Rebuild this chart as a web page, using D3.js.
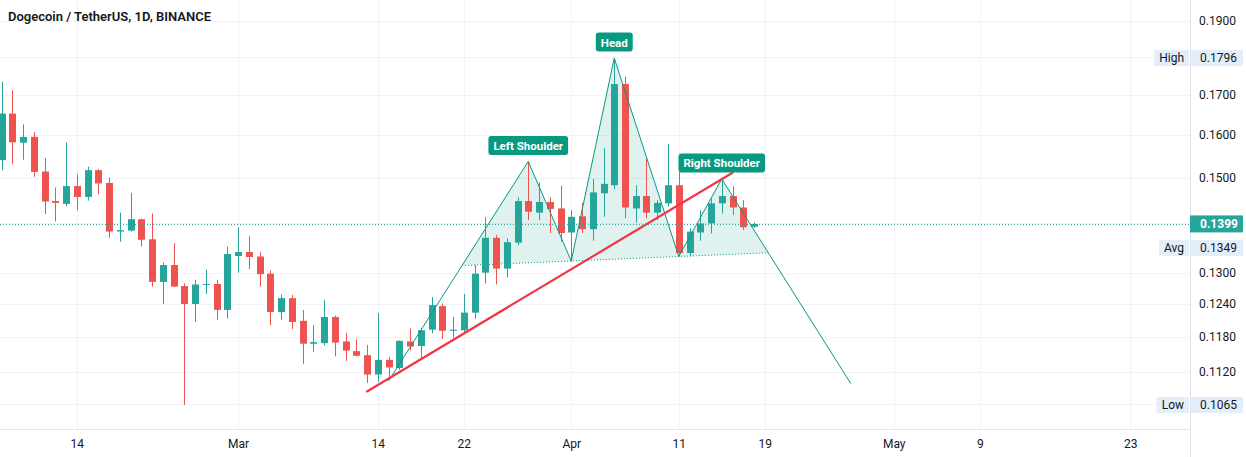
<!DOCTYPE html>
<html>
<head>
<meta charset="utf-8">
<script src="https://cdn.jsdelivr.net/npm/d3@7/dist/d3.min.js"></script>
<style>
  body { margin: 0; background: #ffffff; }
  svg { display: block; font-family: Roboto, "Liberation Sans", sans-serif; }
</style>
</head>
<body>
<svg id="chart" width="1246" height="457"></svg>
<script>
//chart text
var chartTitle = "Dogecoin / TetherUS, 1D, BINANCE";

//daily candles, first one is 7 Feb 2022
var firstDay = "2022-02-07";
var candleOpen  = [0.1540,0.1652,0.1581,0.1595,0.1514,0.1448,0.1442,0.1481,0.1457,0.1517,0.1488,0.1383,0.1385,0.1409,0.1367,0.1282,0.1315,0.1274,0.1240,0.1277,0.1278,0.1229,0.1333,0.1341,0.1332,0.1298,0.1225,0.1251,0.1209,0.1168,0.1169,0.1216,0.1172,0.1155,0.1148,0.1115,0.1140,0.1126,0.1172,0.1164,0.1193,0.1236,0.1191,0.1192,0.1224,0.1300,0.1370,0.1308,0.1360,0.1448,0.1423,0.1446,0.1432,0.1381,0.1415,0.1388,0.1465,0.1483,0.1727,0.1432,0.1459,0.1423,0.1443,0.1483,0.1339,0.1381,0.1400,0.1443,0.1459,0.1434,0.1393];
var candleHigh  = [0.1733,0.1711,0.1625,0.1607,0.1545,0.1478,0.1582,0.1507,0.1525,0.1519,0.1500,0.1423,0.1466,0.1410,0.1421,0.1320,0.1359,0.1279,0.1286,0.1306,0.1286,0.1352,0.1392,0.1374,0.1341,0.1304,0.1258,0.1257,0.1229,0.1201,0.1248,0.1219,0.1187,0.1176,0.1166,0.1223,0.1145,0.1174,0.1195,0.1196,0.1253,0.1241,0.1216,0.1259,0.1315,0.1413,0.1376,0.1369,0.1456,0.1537,0.1489,0.1456,0.1482,0.1428,0.1444,0.1497,0.1568,0.1796,0.1746,0.1483,0.1544,0.1450,0.1578,0.1513,0.1390,0.1428,0.1453,0.1499,0.1481,0.1450,0.1402];
var candleLow   = [0.1517,0.1531,0.1541,0.1502,0.1420,0.1404,0.1437,0.1428,0.1449,0.1463,0.1370,0.1362,0.1383,0.1352,0.1273,0.1240,0.1272,0.1065,0.1207,0.1259,0.1211,0.1213,0.1300,0.1307,0.1273,0.1201,0.1211,0.1194,0.1133,0.1154,0.1165,0.1146,0.1138,0.1146,0.1101,0.1103,0.1108,0.1123,0.1156,0.1143,0.1187,0.1176,0.1179,0.1187,0.1213,0.1279,0.1277,0.1291,0.1355,0.1407,0.1407,0.1380,0.1362,0.1322,0.1380,0.1364,0.1414,0.1474,0.1411,0.1402,0.1411,0.1407,0.1436,0.1332,0.1332,0.1364,0.1379,0.1421,0.1418,0.1386,0.1391];
var candleClose = [0.1652,0.1582,0.1595,0.1513,0.1447,0.1444,0.1481,0.1457,0.1517,0.1487,0.1383,0.1386,0.1409,0.1366,0.1282,0.1315,0.1273,0.1240,0.1277,0.1278,0.1229,0.1337,0.1341,0.1331,0.1297,0.1225,0.1251,0.1207,0.1168,0.1171,0.1216,0.1170,0.1156,0.1147,0.1115,0.1140,0.1127,0.1173,0.1163,0.1192,0.1238,0.1191,0.1193,0.1224,0.1298,0.1370,0.1308,0.1361,0.1448,0.1425,0.1446,0.1431,0.1380,0.1414,0.1388,0.1467,0.1486,0.1727,0.1434,0.1459,0.1423,0.1444,0.1483,0.1339,0.1383,0.1400,0.1443,0.1459,0.1434,0.1392,0.1399];

//head and shoulders drawing: start, left shoulder, trough, head, trough, right shoulder, target
var patternDates  = ["2022-03-15","2022-03-28","2022-04-01","2022-04-05","2022-04-11","2022-04-15","2022-04-27"];
var patternPrices = [0.1104,0.1537,0.1323,0.1796,0.1332,0.1497,0.1100];
var patternLabels = ["Left Shoulder","Head","Right Shoulder"];

//red support line
var trendDates  = ["2022-03-13","2022-04-16"];
var trendPrices = [0.1087,0.1511];

//time axis labels
var dateTicks  = ["2022-02-14","2022-03-01","2022-03-14","2022-03-22","2022-04-01","2022-04-11","2022-04-19","2022-05-01","2022-05-09","2022-05-23"];
var dateLabels = ["14","Mar","14","22","Apr","11","19","May","9","23"];

//price axis
var priceTicks = [0.19,0.17,0.16,0.15,0.13,0.124,0.118,0.112];
var priceGrid  = [0.19,0.18,0.17,0.16,0.15,0.14,0.13,0.124,0.118,0.112,0.1066];
var statNames  = ["High","Avg","Low"];
var statValues = [0.1796,0.1349,0.1065];

var upColor = "#26a69a",
	downColor = "#ef5350",
	patternColor = "#089981",
	trendColor = "#f23645",
	gridColor = "#f0f3fa",
	borderColor = "#e0e3eb",
	tagColor = "#e3eefb",
	textColor = "#131722";

var plotRight = 1190,
	plotBottom = 429,
	dayWidth = 10.75;

var svg = d3.select("#chart");
var parseDay = d3.utcParse("%Y-%m-%d");
var day0 = parseDay(firstDay);

var x = d3.scaleUtc()
	.domain([day0, d3.utcDay.offset(day0, 110)])
	.range([1.5, 1.5 + 110 * dayWidth]);

var y = d3.scaleLog()
	.domain([0.10272, 0.19602])
	.range([plotBottom, 0]);

var fmt = d3.format(".4f");

var candles = candleOpen.map(function(o, i){
	return {date: d3.utcDay.offset(day0, i), open: o, high: candleHigh[i], low: candleLow[i], close: candleClose[i]};
});

//grid
var grid = svg.append("g");
grid.selectAll(".hgrid")
	.data(priceGrid)
	.enter().append("line")
	.attr("x1", 0).attr("x2", plotRight)
	.attr("y1", function(d){ return Math.round(y(d)) + 0.5; })
	.attr("y2", function(d){ return Math.round(y(d)) + 0.5; })
	.attr("stroke", gridColor);
grid.selectAll(".vgrid")
	.data(dateTicks)
	.enter().append("line")
	.attr("x1", function(d){ return Math.round(x(parseDay(d))) + 0.5; })
	.attr("x2", function(d){ return Math.round(x(parseDay(d))) + 0.5; })
	.attr("y1", 0).attr("y2", plotBottom)
	.attr("stroke", gridColor);

//pattern fill and lines
var pts = patternDates.map(function(d, i){ return [x(parseDay(d)), y(patternPrices[i])]; });

function neckAt(p, q){
	//where segment p-q crosses the neckline through pts[2] and pts[4]
	var c = pts[2], e = pts[4];
	var m = (e[1] - c[1]) / (e[0] - c[0]);
	var s = (q[1] - p[1]) / (q[0] - p[0]);
	var xx = (p[1] - s * p[0] - c[1] + m * c[0]) / (m - s);
	return [xx, c[1] + m * (xx - c[0])];
}
var n1 = neckAt(pts[0], pts[1]),
	n2 = neckAt(pts[5], pts[6]);

var plot = svg.append("g");
var fills = [[n1, pts[1], pts[2]], [pts[2], pts[3], pts[4]], [pts[4], pts[5], n2]];
plot.selectAll(".hsfill")
	.data(fills)
	.enter().append("path")
	.attr("d", function(d){ return d3.line()(d) + "Z"; })
	.attr("fill", patternColor)
	.attr("fill-opacity", 0.13);

plot.append("path")
	.attr("d", d3.line()([n1, pts[2], pts[4], n2]))
	.attr("fill", "none")
	.attr("stroke", patternColor)
	.attr("stroke-dasharray", "1,2");

//candles
var candle = plot.selectAll(".candle")
	.data(candles)
	.enter().append("g")
	.attr("class", "candle");
candle.append("line")
	.attr("x1", function(d){ return Math.round(x(d.date)) + 0.5; })
	.attr("x2", function(d){ return Math.round(x(d.date)) + 0.5; })
	.attr("y1", function(d){ return y(d.high); })
	.attr("y2", function(d){ return y(d.low); })
	.attr("stroke", function(d){ return d.close >= d.open ? upColor : downColor; });
candle.append("rect")
	.attr("x", function(d){ return Math.round(x(d.date)) - 3; })
	.attr("width", 7)
	.attr("y", function(d){ return y(Math.max(d.open, d.close)); })
	.attr("height", function(d){ return Math.max(1, y(Math.min(d.open, d.close)) - y(Math.max(d.open, d.close))); })
	.attr("fill", function(d){ return d.close >= d.open ? upColor : downColor; });

plot.append("path")
	.attr("d", d3.line()(pts))
	.attr("fill", "none")
	.attr("stroke", patternColor)
	.attr("stroke-width", 1);

plot.append("line")
	.attr("x1", x(parseDay(trendDates[0]))).attr("y1", y(trendPrices[0]))
	.attr("x2", x(parseDay(trendDates[1]))).attr("y2", y(trendPrices[1]))
	.attr("stroke", trendColor)
	.attr("stroke-width", 2.2)
	.attr("stroke-linecap", "round");

//pattern labels over the three peaks
[1, 3, 5].forEach(function(k, i){
	var g = plot.append("g");
	var r = g.append("rect");
	var t = g.append("text")
		.attr("x", pts[k][0])
		.attr("y", pts[k][1] - 11.5)
		.attr("text-anchor", "middle")
		.attr("fill", "#ffffff")
		.attr("font-size", "11.5px")
		.attr("font-weight", "bold")
		.text(patternLabels[i]);
	var w = t.node().getComputedTextLength() + 10;
	r.attr("x", pts[k][0] - w / 2)
		.attr("y", pts[k][1] - 25.5)
		.attr("width", w)
		.attr("height", 19)
		.attr("rx", 3)
		.attr("fill", patternColor);
});

//last price line
var lastClose = candleClose[candleClose.length - 1];
svg.append("line")
	.attr("x1", 0).attr("x2", plotRight)
	.attr("y1", Math.round(y(lastClose)) + 0.5)
	.attr("y2", Math.round(y(lastClose)) + 0.5)
	.attr("stroke", upColor)
	.attr("stroke-dasharray", "1,2");

//borders
svg.append("line")
	.attr("x1", plotRight + 0.5).attr("x2", plotRight + 0.5)
	.attr("y1", 0).attr("y2", 457)
	.attr("stroke", borderColor);
svg.append("line")
	.attr("x1", 0).attr("x2", plotRight)
	.attr("y1", plotBottom + 0.5).attr("y2", plotBottom + 0.5)
	.attr("stroke", borderColor);

//price axis labels
var yAxis = d3.axisRight(y)
	.tickValues(priceTicks)
	.tickFormat(fmt)
	.tickSize(0)
	.tickPadding(9);
svg.append("g")
	.attr("transform", "translate(" + plotRight + ",0)")
	.call(yAxis)
	.call(function(g){ g.select(".domain").remove(); })
	.selectAll("text")
	.attr("fill", textColor)
	.attr("font-size", "12px")
	.attr("font-family", "Roboto, sans-serif");

//time axis labels
var xAxis = d3.axisBottom(x)
	.tickValues(dateTicks.map(parseDay))
	.tickFormat(function(d, i){ return dateLabels[i]; })
	.tickSize(0)
	.tickPadding(10);
svg.append("g")
	.attr("transform", "translate(0," + plotBottom + ")")
	.call(xAxis)
	.call(function(g){ g.select(".domain").remove(); })
	.selectAll("text")
	.attr("fill", textColor)
	.attr("font-size", "12px")
	.attr("font-family", "Roboto, sans-serif");

//high / avg / low tags
statValues.forEach(function(v, i){
	var cy = y(v);
	var g = svg.append("g");
	g.append("rect")
		.attr("x", plotRight + 1).attr("y", cy - 8)
		.attr("width", 52).attr("height", 16)
		.attr("fill", tagColor);
	g.append("text")
		.attr("x", plotRight + 10).attr("y", cy + 4)
		.attr("fill", textColor)
		.attr("font-size", "12px")
		.text(fmt(v));
	var nameBox = g.append("rect");
	var t = g.append("text")
		.attr("x", plotRight - 6).attr("y", cy + 4)
		.attr("text-anchor", "end")
		.attr("fill", textColor)
		.attr("font-size", "12px")
		.text(statNames[i]);
	var w = t.node().getComputedTextLength() + 10;
	nameBox.attr("x", plotRight - 1 - w).attr("y", cy - 8)
		.attr("width", w).attr("height", 16)
		.attr("fill", tagColor);
});

//last price badge
svg.append("rect")
	.attr("x", plotRight).attr("y", y(lastClose) - 8.5)
	.attr("width", 53).attr("height", 17)
	.attr("fill", upColor);
svg.append("text")
	.attr("x", plotRight + 10).attr("y", y(lastClose) + 4.5)
	.attr("fill", "#ffffff")
	.attr("font-size", "12px")
	.attr("font-weight", "bold")
	.text(fmt(lastClose));

//title
svg.append("text")
	.attr("x", 8).attr("y", 21)
	.attr("fill", textColor)
	.attr("font-size", "13px")
	.attr("font-weight", 600)
	.text(chartTitle);
</script>
</body>
</html>
